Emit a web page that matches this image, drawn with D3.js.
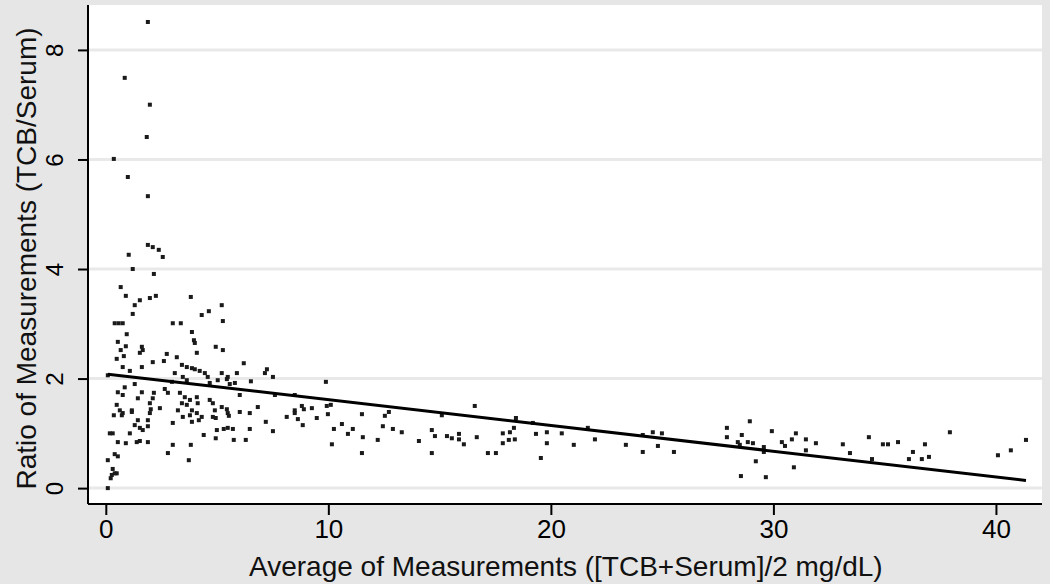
<!DOCTYPE html>
<html>
<head>
<meta charset="utf-8">
<script src="https://cdn.jsdelivr.net/npm/d3@7/dist/d3.min.js"></script>
<style>
  html, body { margin: 0; padding: 0; background: #e6e6e6; }
  svg { display: block; }
</style>
</head>
<body>
<svg id="chart" width="1050" height="584"></svg>
<script>
// average of measurements ([TCB+Serum]/2 mg/dL)
const avgValues = [
  1.89,0.85,1.98,1.84,0.36,0.99,1.89,1.89,2.11,2.38,2.56,1.03,1.21,2.16,0.67,0.90,1.53,1.30,1.98,2.25,
  1.21,3.82,0.40,0.58,0.76,3.01,3.37,4.31,4.63,5.21,5.26,3.87,0.94,
  0.54,0.90,0.67,0.81,0.49,0.76,1.08,1.62,1.53,1.66,1.62,4.00,3.96,4.09,4.94,5.26,2.74,3.19,2.61,2.11,
  3.42,3.64,3.87,4.00,4.22,4.45,4.58,3.10,3.46,3.64,2.97,5.21,5.44,4.67,5.03,6.20,7.15,7.24,7.51,5.89,
  5.48,6.52,5.80,5.57,9.89,0.09,
  0.85,1.30,0.54,0.76,1.62,1.44,2.16,2.11,2.65,2.79,3.33,3.55,3.42,3.78,4.09,4.13,3.64,3.24,3.87,4.09,
  4.67,4.81,4.90,5.21,5.44,0.49,0.63,0.76,1.98,2.02,2.43,1.98,1.17,6.02,7.60,8.49,6.83,8.49,8.81,8.90,
  9.26,9.93,10.11,5.48,6.02,6.47,5.53,8.13,8.49,8.63,9.48,9.98,11.51,0.36,0.72,1.17,1.89,3.46,3.78,4.18,
  4.31,4.81,4.94,
  1.44,1.30,1.53,1.66,1.89,0.18,0.31,1.08,0.54,0.90,1.39,1.53,1.89,3.01,3.87,4.99,5.30,4.40,4.94,3.01,
  3.82,2.79,3.73,0.40,0.54,0.09,0.31,0.40,0.27,0.49,0.22,0.09,7.19,5.48,5.71,6.47,7.51,5.75,6.29,8.85,
  10.25,10.61,10.88,11.10,11.55,10.16,11.51,12.22,
  16.58,12.54,12.72,15.10,12.45,12.90,13.30,14.07,14.65,14.79,14.65,15.33,15.55,15.87,15.87,16.09,16.67,
  17.17,17.53,17.84,17.84,18.16,18.11,18.34,18.38,18.43,19.19,19.33,19.55,19.82,19.82,20.49,21.03,21.66,
  21.98,23.37,24.13,24.13,24.58,24.81,24.99,25.53,
  27.91,27.91,28.94,28.58,28.40,28.85,29.08,28.49,29.57,29.57,29.21,28.54,29.66,29.93,30.38,30.52,30.83,
  31.01,30.92,31.46,31.46,31.91,33.12,33.44,34.29,34.43,34.92,35.15,35.60,36.09,36.27,36.67,36.81,36.99,
  37.93,40.09,40.67,41.35
];

// ratio of measurements (TCB/Serum)
const ratioValues = [
  8.51,7.49,7.00,6.41,6.01,5.68,5.33,4.44,4.40,4.35,4.22,4.26,4.00,3.91,3.67,3.51,3.43,3.34,3.47,3.51,
  3.18,3.49,3.01,3.01,3.01,3.01,3.01,3.16,3.23,3.34,3.05,2.85,2.81,
  2.67,2.59,2.52,2.41,2.36,2.21,2.14,2.58,2.47,2.52,2.21,2.65,2.70,2.47,2.58,2.52,2.45,2.39,2.32,2.30,
  2.25,2.21,2.19,2.17,2.14,2.10,2.03,2.10,2.03,1.97,1.94,2.10,1.99,1.92,1.97,2.28,2.10,2.17,2.03,2.10,
  2.03,1.95,1.92,1.90,1.94,2.06,
  1.84,1.90,1.75,1.70,1.75,1.64,1.74,1.64,1.81,1.74,1.74,1.66,1.55,1.61,1.66,1.55,1.52,1.42,1.42,1.37,
  1.61,1.55,1.42,1.48,1.44,1.52,1.42,1.37,1.55,1.44,1.46,1.37,1.42,1.70,1.70,1.70,1.48,1.42,1.50,1.44,
  1.46,1.50,1.52,1.37,1.39,1.37,1.32,1.30,1.37,1.26,1.28,1.35,1.35,1.33,1.33,1.39,1.24,1.30,1.33,1.24,
  1.30,1.30,1.28,
  1.24,1.15,1.10,1.06,1.13,1.00,1.00,1.00,0.84,0.82,0.84,0.86,0.84,1.19,1.21,1.06,1.08,0.97,0.91,0.79,
  0.79,0.64,0.51,0.62,0.58,0.51,0.35,0.27,0.24,0.27,0.18,0.00,1.21,1.10,1.08,1.08,1.04,0.88,0.88,1.15,
  1.08,1.17,0.99,1.08,0.93,0.80,0.64,0.88,
  1.50,1.32,1.39,1.33,1.13,1.08,1.02,0.86,1.06,0.95,0.64,0.95,0.91,0.99,0.89,0.80,0.93,
  0.64,0.64,1.00,0.82,1.02,0.88,1.10,0.89,1.28,1.19,0.99,0.55,1.02,0.82,1.00,0.79,1.10,
  0.89,0.79,0.97,0.66,1.02,0.77,1.00,0.66,
  1.10,0.93,1.22,0.97,0.84,0.84,0.82,0.79,0.75,0.66,0.49,0.22,0.20,1.04,0.84,0.77,0.89,
  1.00,0.38,0.89,0.69,0.82,0.80,0.64,0.93,0.53,0.80,0.80,0.84,0.53,0.66,0.53,0.80,0.57,
  1.02,0.60,0.69,0.88
];

// fitted linear trend (end points)
const fitX = [0.09, 41.35];
const fitY = [2.08, 0.14];

const xTicks = [0, 10, 20, 30, 40];
const yTicks = [0, 2, 4, 6, 8];
const xTitle = "Average of Measurements ([TCB+Serum]/2 mg/dL)";
const yTitle = "Ratio of Measurements (TCB/Serum)";

const points = avgValues.map((v, i) => ({ x: v, y: ratioValues[i] }));
const fit = fitX.map((v, i) => ({ x: v, y: fitY[i] }));

const svg = d3.select("#chart");
const width = 1050, height = 584;
const m = { top: 5, right: 8, bottom: 80, left: 88 };
const narrow = "'Liberation Sans Narrow', 'Arial Narrow', sans-serif";
const regular = "'Liberation Sans', Arial, sans-serif";

svg.append("rect")
  .attr("width", width).attr("height", height)
  .attr("fill", "#e6e6e6");

const x = d3.scaleLinear().domain([-0.8, 42.07]).range([m.left, width - m.right]);
const y = d3.scaleLinear().domain([-0.29, 8.82]).range([height - m.bottom, m.top]);

// white plot region
svg.append("rect")
  .attr("x", m.left).attr("y", m.top)
  .attr("width", width - m.left - m.right)
  .attr("height", height - m.top - m.bottom)
  .attr("fill", "#ffffff");

// gridlines
svg.append("g")
  .selectAll("line")
  .data(yTicks)
  .join("line")
  .attr("x1", m.left).attr("x2", width - m.right)
  .attr("y1", d => y(d)).attr("y2", d => y(d))
  .attr("stroke", "#e9e9e9")
  .attr("stroke-width", 3);

// y axis
const gy = svg.append("g")
  .attr("transform", `translate(${m.left},0)`)
  .call(d3.axisLeft(y).tickValues(yTicks).tickSize(10).tickPadding(0).tickFormat(d3.format("d")));
gy.select(".domain").attr("stroke", "#000").attr("stroke-width", 2).attr("d", `M0,${m.top}V${height - m.bottom}`);
gy.selectAll(".tick line").attr("stroke", "#000").attr("stroke-width", 2);
gy.selectAll(".tick text")
  .attr("font-family", regular)
  .attr("font-size", "24px")
  .attr("fill", "#000")
  .attr("text-anchor", "middle")
  .attr("dy", 0)
  .attr("x", 0)
  .attr("y", 0)
  .attr("transform", "translate(-25,0) rotate(-90)");

// x axis
const gx = svg.append("g")
  .attr("transform", `translate(0,${height - m.bottom})`)
  .call(d3.axisBottom(x).tickValues(xTicks).tickSize(11).tickFormat(d3.format("d")));
gx.select(".domain").attr("stroke", "#000").attr("stroke-width", 2).attr("d", `M${m.left},0H${width - m.right}`);
gx.selectAll(".tick line").attr("stroke", "#000").attr("stroke-width", 2);
gx.selectAll(".tick text")
  .attr("font-family", regular)
  .attr("font-size", "26px")
  .attr("fill", "#000")
  .attr("y", 34)
  .attr("dy", 0);

// axis titles
svg.append("text")
  .attr("x", (x(0) + x(40)) / 2 + 15)
  .attr("y", 576)
  .attr("text-anchor", "middle")
  .attr("font-family", narrow)
  .attr("font-size", "28px")
  .attr("fill", "#111")
  .text(xTitle);

svg.append("text")
  .attr("transform", `translate(36,${(m.top + height - m.bottom) / 2 + 4}) rotate(-90)`)
  .attr("text-anchor", "middle")
  .attr("font-family", narrow)
  .attr("font-size", "28px")
  .attr("fill", "#111")
  .text(yTitle);

// scatter
svg.append("g")
  .selectAll("rect")
  .data(points)
  .join("rect")
  .attr("x", d => x(d.x) - 2)
  .attr("y", d => y(d.y) - 2)
  .attr("width", 4)
  .attr("height", 4)
  .attr("fill", "#1a1a1a");

// fitted line
svg.append("path")
  .datum(fit)
  .attr("fill", "none")
  .attr("stroke", "#000")
  .attr("stroke-width", 3)
  .attr("d", d3.line().x(d => x(d.x)).y(d => y(d.y)));
</script>
</body>
</html>
